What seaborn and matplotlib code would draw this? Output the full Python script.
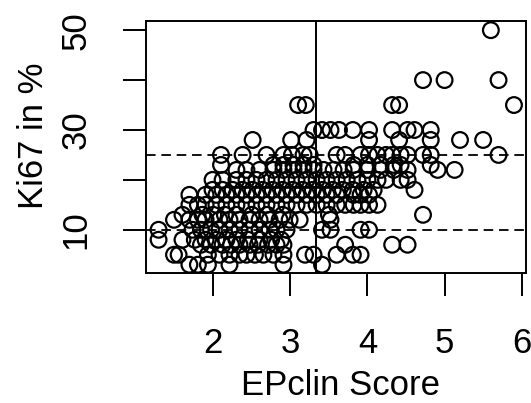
import matplotlib
matplotlib.use("Agg")
import matplotlib.pyplot as plt
import seaborn as sns
import pandas as pd

# EPclin score values per Ki67 level
k3 = [1.69, 1.80, 1.93, 2.21, 2.91, 3.41]
k5 = [1.49, 1.55, 1.93, 2.08, 2.21, 2.34, 2.43, 2.54, 2.65, 2.78, 2.91, 3.19, 3.30, 3.60, 3.81, 3.91]
k7 = [1.84, 1.97, 2.12, 2.23, 2.34, 2.47, 2.58, 2.71, 2.82, 2.91, 3.71, 4.32, 4.52]
k8 = [1.29, 1.60, 1.76, 1.90, 2.04, 2.17, 2.30, 2.45, 2.60, 2.75, 2.88]
k10 = [1.29, 1.73, 1.84, 1.97, 2.08, 2.21, 2.34, 2.47, 2.60, 2.73, 2.82, 2.95, 3.41, 3.52, 3.91, 4.02]
k12 = [1.49, 1.69, 1.80, 1.90, 2.08, 2.21, 2.34, 2.47, 2.60, 2.73, 2.86, 2.99, 3.12, 3.52]
k13 = [1.60, 1.86, 2.00, 2.15, 2.30, 2.50, 2.70, 2.90, 3.50, 4.72]
k15 = [1.69, 1.80, 1.90, 2.04, 2.17, 2.30, 2.43, 2.56, 2.69, 2.82, 2.95, 3.08, 3.21, 3.34,
       3.47, 3.60, 3.71, 3.82, 3.91, 4.02, 4.13]
k17 = [1.69, 1.90, 2.04, 2.17, 2.30, 2.43, 2.56, 2.69, 2.82, 2.95, 3.08, 3.21, 3.34, 3.47,
       3.60, 3.82, 3.91, 4.02]
k18 = [1.99, 2.12, 2.25, 2.38, 2.51, 2.64, 2.77, 2.90, 3.03, 3.16, 3.29, 3.42, 3.55, 3.68,
       3.81, 3.95, 4.08, 4.61]
k20 = [1.99, 2.12, 2.30, 2.43, 2.56, 2.69, 2.82, 2.95, 3.08, 3.21, 3.34, 3.47, 3.60, 3.73,
       3.87, 4.00, 4.13, 4.24, 4.43, 4.52]
k22 = [2.30, 2.43, 2.60, 2.78, 2.91, 3.04, 3.17, 3.30, 3.43, 3.56, 3.69, 3.82, 4.00, 4.17,
       4.34, 4.52, 4.91, 5.13]
k23 = [2.10, 2.78, 2.91, 3.04, 3.17, 3.30, 3.82, 4.00, 4.17, 4.34, 4.43, 4.82]
k25 = [2.10, 2.38, 2.69, 2.91, 3.02, 3.17, 3.25, 3.60, 3.71, 3.91, 4.02, 4.13, 4.24, 4.32,
       4.43, 4.52, 4.72, 4.82, 5.70]
k28 = [2.51, 3.01, 3.21, 4.02, 4.41, 4.82, 5.20, 5.50]
k30 = [3.30, 3.41, 3.52, 3.63, 3.81, 4.02, 4.32, 4.52, 4.61, 4.82]
k35 = [3.10, 3.20, 4.32, 4.41, 5.90]
k40 = [4.72, 5.00, 5.70]
k50 = [5.60]

ki67_levels = [3, 5, 7, 8, 10, 12, 13, 15, 17, 18, 20, 22, 23, 25, 28, 30, 35, 40, 50]
epclin_rows = [k3, k5, k7, k8, k10, k12, k13, k15, k17, k18, k20, k22, k23, k25, k28, k30,
               k35, k40, k50]

cutoff_epclin = 3.33
cutoff_ki67 = [25, 10]

x_ticks = [2, 3, 4, 5, 6]
y_ticks = [10, 20, 30, 40, 50]
y_ticklabels = ["10", "", "30", "", "50"]

rows = []
for lvl, xs in zip(ki67_levels, epclin_rows):
    for xv in xs:
        rows.append({"EPclin": xv, "Ki67": lvl})
df = pd.DataFrame(rows)

plt.rcParams['font.family'] = ['Liberation Sans', 'DejaVu Sans']

fig, ax = plt.subplots(figsize=(5.31, 4.03), dpi=100)
fig.subplots_adjust(left=145.7/531, right=526/531, top=1-21/403, bottom=1-273.3/403)

sns.scatterplot(data=df, x="EPclin", y="Ki67", ax=ax, s=128, marker="o",
                facecolor="none", edgecolor="black", linewidth=1.6, zorder=3)

ax.axvline(cutoff_epclin, color="black", lw=1.4, zorder=2)
for yv in cutoff_ki67:
    ax.axhline(yv, color="black", lw=1.3, linestyle=(0, (5.3, 3.2)), zorder=2)

ax.set_xlim(1.123, 6.056)
ax.set_ylim(1.28, 51.84)
ax.set_xticks(x_ticks)
ax.set_xticklabels([str(t) for t in x_ticks])
ax.set_yticks(y_ticks)
ax.set_yticklabels(y_ticklabels, rotation=90, va="center")

ax.tick_params(axis="both", length=16.5, width=1.4, labelsize=25, pad=22, color="black")
for sp in ax.spines.values():
    sp.set_linewidth(1.4)
    sp.set_color("black")

ax.set_xlabel("EPclin Score", fontsize=25)
ax.set_ylabel("Ki67 in %", fontsize=25)
ax.xaxis.set_label_coords((340.5-145.7)/380.3, (273.3-369)/252.3)
ax.yaxis.set_label_coords((50-145.7)/380.3, (273.3-136)/252.3)

fig.savefig("out.png", dpi=100)
